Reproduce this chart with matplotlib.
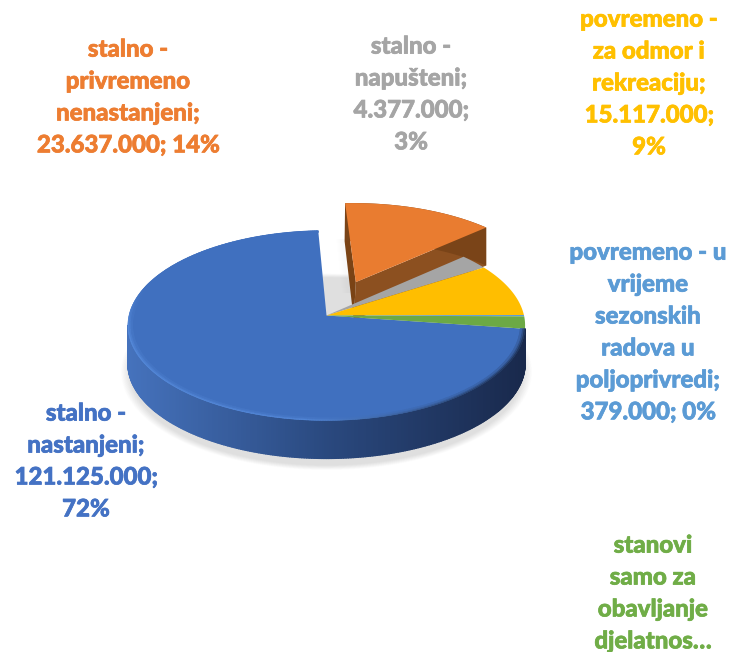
import numpy as np
import matplotlib
matplotlib.use('Agg')
import matplotlib.pyplot as plt
import matplotlib.patheffects as pe
from matplotlib.collections import PolyCollection
from matplotlib.colors import to_rgb

plt.rcParams['font.family'] = ['Lato', 'DejaVu Sans']

# podaci
values = [121125000, 23637000, 4377000, 15117000, 379000, 3500000]
colors = ['#4472C4', '#ED7D31', '#A5A5A5', '#FFC000', '#5B9BD5', '#70AD47']
top_colors = ['#4070BF', '#E97C30', '#A5A5A5', '#FFBE00', '#5B9BD5', '#6CA945']
labels = ['stalno -\nnastanjeni;\n121.125.000;\n72%',
          'stalno -\nprivremeno\nnenastanjeni;\n23.637.000; 14%',
          'stalno -\nnapušteni;\n4.377.000;\n3%',
          'povremeno -\nza odmor i\nrekreaciju;\n15.117.000;\n9%',
          'povremeno - u\nvrijeme\nsezonskih\nradova u\npoljoprivredi;\n379.000; 0%',
          'stanovi\nsamo za\nobavljanje\ndjelatnos…']
label_pos = [(86, 461), (128, 97), (411, 94), (649, 83), (648, 332), (653, 593)]
explode = [0, 0.40, 0, 0, 0, 0]

# geometrija (px)
start_angle = -8
cx, cy = 326.5, 315.5
rx, a_y, k = 197.5, 93.9, 0.105
depth = 38


def project(u, v):
    # perspektiva: straznja strana je stisnuta
    w = 1 + k * v
    return cx + rx * u / w, cy - a_y * v / w


def slice_angles():
    # kazaljka na satu od start_angle
    frac = np.array(values) / sum(values) * 360
    ends = start_angle - np.cumsum(frac)
    starts = np.r_[start_angle, ends[:-1]]
    return starts, ends


def arc(a1, a2, r=1.0, off=(0, 0), n=200):
    t = np.radians(np.linspace(a1, a2, n))
    return project(off[0] + r * np.cos(t), off[1] + r * np.sin(t))


def mix(c1, c2, t):
    c1, c2 = np.array(to_rgb(c1)), np.array(to_rgb(c2))
    return tuple(c1 + (c2 - c1) * np.clip(t, 0, 1))


fig = plt.figure(figsize=(7.31, 6.52), dpi=100)
ax = fig.add_axes([0, 0, 1, 1])
ax.set_xlim(0, 731)
ax.set_ylim(652, 0)
ax.axis('off')

starts, ends = slice_angles()

# sjena ispod torte
t = np.linspace(0, 2 * np.pi, 200)
for i in range(16):
    sx, sy = project(1.0 * np.cos(t), 1.0 * np.sin(t))
    sc = 0.99 + i * 0.003
    ax.fill(cx + (sx - cx) * sc, cy + 8 + (sy - cy) * sc + depth, color='#808080', alpha=0.012, lw=0, zorder=1)

# izdvojeni narancasti dio
mid = np.radians((starts[1] + ends[1]) / 2)
off = (explode[1] * np.cos(mid), explode[1] * np.sin(mid))
ax_, ay_ = project(off[0], off[1])
ox, oy = arc(starts[1], ends[1], off=off)

# slaba sjena iza narancastog, samo uz gornji dio
for i in range(6):
    ax.fill([ox[0] - 4 - i, ox[0] + 2 - i, ox[0] + 5, ox[0] + 5],
            [oy[0] + 36, oy[0] + 90, oy[0] + 90, oy[0] + 36], color='#808080', alpha=0.004, lw=0, zorder=1.5)

ax.fill([ox[0], ax_, ax_ - 2, ox[0] - 0.5], [oy[0], ay_, ay_ + depth, oy[0] + depth], color='#7A4315', lw=0, zorder=2)
ax.fill([ax_, ox[-1], ox[-1], ax_ - 2], [ay_, oy[-1], oy[-1] + depth, ay_ + depth], color='#8C5020', lw=0, zorder=2)
ax.fill(np.r_[ox, ox[::-1]], np.r_[oy, oy[::-1] + depth], color='#7A4418', lw=0, zorder=2)
ax.fill(np.r_[ax_, ox], np.r_[ay_, oy], color=top_colors[1], lw=0, zorder=3)

# bocna strana bloka
bx, by = arc(start_angle, start_angle - 166, n=260)
quads, fc = [], []
for i in range(len(bx) - 1):
    quads.append([(bx[i], by[i]), (bx[i + 1], by[i + 1]), (bx[i + 1], by[i + 1] + depth), (bx[i], by[i] + depth)])
    g = (bx[i] - 129) / 395
    if g < 0.5:
        fc.append(mix('#4572BC', '#2A497F', g * 2))
    else:
        fc.append(mix('#2A497F', '#19294C', (g - 0.5) * 2))
ax.add_collection(PolyCollection(quads, facecolors=fc, edgecolors=fc, linewidths=1.0, zorder=4))

# gornje plohe
for i in [0, 2, 3, 4, 5]:
    sx, sy = arc(starts[i], ends[i], n=300)
    ax.fill(np.r_[cx, sx], np.r_[cy, sy], color=top_colors[i], lw=0, zorder=5)

# rub (bevel) plave plohe, prelazi u boju plohe prema unutra
a_rim = np.linspace(starts[0], ends[0], 400)
rings = [(1.0, 0.992, 1.0), (0.992, 0.984, 0.6), (0.984, 0.976, 0.25)]
for r1, r2, strength in rings:
    ox1, oy1 = arc(a_rim[0], a_rim[-1], r=r1, n=400)
    ix1, iy1 = arc(a_rim[0], a_rim[-1], r=r2, n=400)
    quads, fc = [], []
    for i in range(399):
        quads.append([(ox1[i], oy1[i]), (ox1[i + 1], oy1[i + 1]), (ix1[i + 1], iy1[i + 1]), (ix1[i], iy1[i])])
        g = (ox1[i] - 129) / 395
        s = np.sin(np.radians(a_rim[i]))
        if g < 0.45:
            col = '#5488D8'
        else:
            col = mix('#5488D8', '#22385F', (g - 0.45) / 0.5)
        # straznji rub nema sjaja
        fade = np.clip((0.3 - s) / 0.4, 0, 1) * strength
        fc.append(mix(top_colors[0], col, fade))
    ax.add_collection(PolyCollection(quads, facecolors=fc, edgecolors=fc, linewidths=0.4, zorder=6))

# tekstovi
for lab, pos, c in zip(labels, label_pos, colors):
    ax.text(pos[0], pos[1], lab, color=c, fontsize=17.3, fontweight=900, ha='center', va='center',
            linespacing=1.47, zorder=10, path_effects=[pe.withStroke(linewidth=0.5, foreground=c)])

fig.savefig('out.png', dpi=100)
